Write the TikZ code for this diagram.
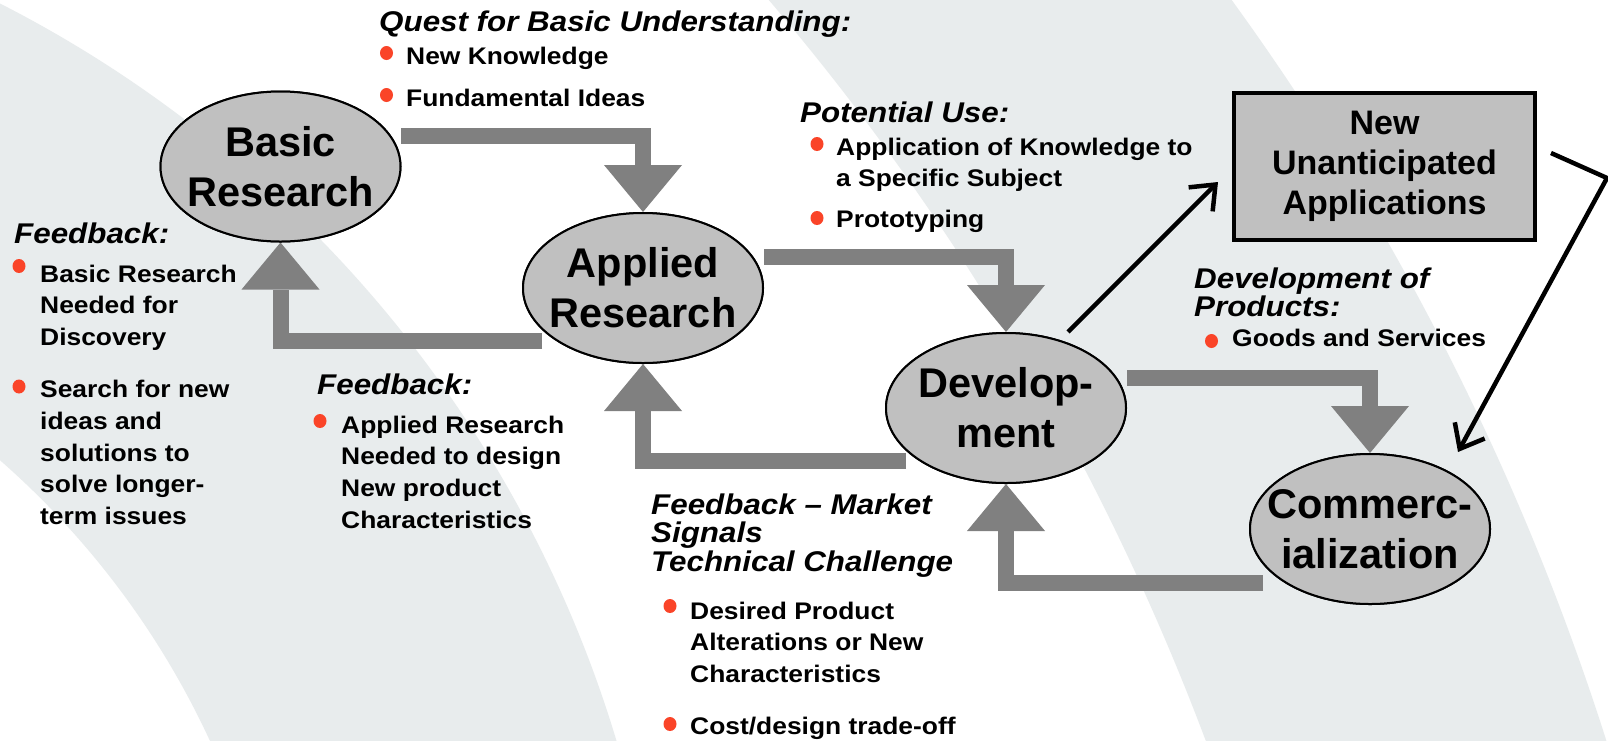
\documentclass[tikz,border=0pt]{standalone}
\usepackage{fontspec}
\setmainfont{Liberation Sans}
\newfontfamily\widesans[FakeStretch=1.1]{Liberation Sans}
\usetikzlibrary{shapes.geometric,arrows.meta}
\definecolor{bgband}{RGB}{232,236,237}
\definecolor{ellfill}{RGB}{192,192,192}
\definecolor{garr}{RGB}{128,128,128}
\definecolor{bulred}{RGB}{250,68,40}
\newcommand{\bdot}[2]{\fill[bulred] (#1,#2) ellipse[x radius=6.5,y radius=7];}
\begin{document}
\begin{tikzpicture}[x=1pt,y=-1pt,
  ell/.style={ellipse, draw=black, line width=2pt, fill=ellfill,
    minimum width=240pt, minimum height=150pt, inner sep=0pt},
  elltext/.style={align=center, inner sep=0pt,
    font=\fontsize{41.5}{50}\selectfont\bfseries},
  boxnode/.style={rectangle, draw=black, line width=4pt, fill=ellfill,
    minimum width=301pt, minimum height=147pt, align=center,
    font=\fontsize{34}{40}\selectfont\bfseries},
  head/.style={anchor=base west, inner sep=0pt,
    font=\widesans\fontsize{28.5}{28.5}\selectfont\bfseries\itshape},
  btext/.style={anchor=base west, inner sep=0pt,
    font=\widesans\fontsize{24}{31.8}\selectfont\bfseries},
  garrow/.style={draw=garr, line width=16pt, line join=miter,
    -{Triangle[length=47pt,width=78pt,line width=0pt]}},
  barrow/.style={draw=black, line width=4.5pt, line join=miter,
    -{Straight Barb[length=21pt,width=34pt]}}]
\useasboundingbox (0,0) rectangle (1608,740);
% background bands
\begin{scope}
  \clip (0,0) rectangle (1608,740);
  \fill[white] (0,0) rectangle (1608,740);
  \fill[bgband, even odd rule] (-554,1093) circle[radius=1222] (-554,1093) circle[radius=841];
  \fill[bgband, even odd rule] (-886,1534.5) circle[radius=2615] (-1136,1620.8) circle[radius=2501];
\end{scope}

% main nodes (ellipses)
\node[ell] (basic) at (280.5,166.5) {};
\node[ell] (app) at (643,288) {};
\node[ell] (dev) at (1006,408) {};
\node[ell] (com) at (1370,529) {};

% connector start points
\coordinate (a1s) at (401,136);
\coordinate (a2s) at (542,340.5);
\coordinate (a3s) at (764,257);
\coordinate (a4s) at (906,461);
\coordinate (a5s) at (1127,378);
\coordinate (a6s) at (1263,583);

% gray elbow arrows
\draw[garrow] (a1s) -| (app.north);
\draw[garrow] (a2s) -| (basic.south);
\draw[garrow] (a3s) -| (dev.north);
\draw[garrow] (a4s) -| (app.south);
\draw[garrow] (a5s) -| (com.north);
\draw[garrow] (a6s) -| (dev.south);

% redraw ellipses on top
\node[ell] (basic2) at (basic) {};
\node[ell] (app2) at (app) {};
\node[ell] (dev2) at (dev) {};
\node[ell] (com2) at (com) {};
\node[elltext] (basic-t) at (basic) {Basic\\Research};
\node[elltext] (app-t) at (app) {Applied\\Research};
\node[elltext] (dev-t) at (dev) {Develop-\\ment};
\node[elltext] (com-t) at (com) {Commerc-\\ialization};

% box
\node[boxnode] (new) at (1384.5,166.5) {New\\Unanticipated\\Applications};

% black arrows
\coordinate (a7s) at (1068,332);
\coordinate (a7e) at (1218,182);
\coordinate (a8s) at (1551,153);
\coordinate (a8c) at (1607,178);
\coordinate (a8e) at (1458,452);
\draw[barrow] (a7s) -- (a7e);
\draw[barrow] (a8s) -- (a8c) -- (a8e);

% texts
\node[head] (hq) at (379,31) {Quest for Basic Understanding:};
\bdot{386.5}{53}
\node[btext] (q1) at (406,64) {New Knowledge};
\bdot{386.5}{95}
\node[btext] (q2) at (406,106) {Fundamental Ideas};

\node[head] (hp) at (800,122) {Potential Use:};
\bdot{817}{144}
\node[btext] (p1) at (836,155) {\vtop{\hbox{Application of Knowledge to}\hbox{a Specific Subject}}};
\bdot{817}{218}
\node[btext] (p2) at (836,227) {Prototyping};

\node[head] (hf1) at (14,243) {Feedback:};
\bdot{19}{266}
\node[btext] (f1a) at (40,282) {\vtop{\hbox{Basic Research}\hbox{Needed for}\hbox{Discovery}}};
\bdot{19}{386.5}
\node[btext] (f1b) at (40,397.5) {\vtop{\hbox{Search for new}\hbox{ideas and}\hbox{solutions to}\hbox{solve longer-}\hbox{term issues}}};

\node[head] (hf2) at (317,394) {Feedback:};
\bdot{320}{421}
\node[btext] (f2a) at (341,433) {\vtop{\hbox{Applied Research}\hbox{Needed to design}\hbox{New product}\hbox{Characteristics}}};

\node[head] (hf3) at (651,514) {\vtop{\hbox{Feedback – Market}\hbox{Signals}\hbox{Technical Challenge}}};
\bdot{670}{606}
\node[btext] (f3a) at (690,619) {\vtop{\hbox{Desired Product}\hbox{Alterations or New}\hbox{Characteristics}}};
\bdot{670}{724}
\node[btext] (f3b) at (690,734) {Cost/design trade-off};

\node[head] (hd) at (1194,288) {\vtop{\hbox{Development of}\hbox{Products:}}};
\bdot{1211.5}{341}
\node[btext] (d1) at (1232,346) {Goods and Services};
\end{tikzpicture}
\end{document}
